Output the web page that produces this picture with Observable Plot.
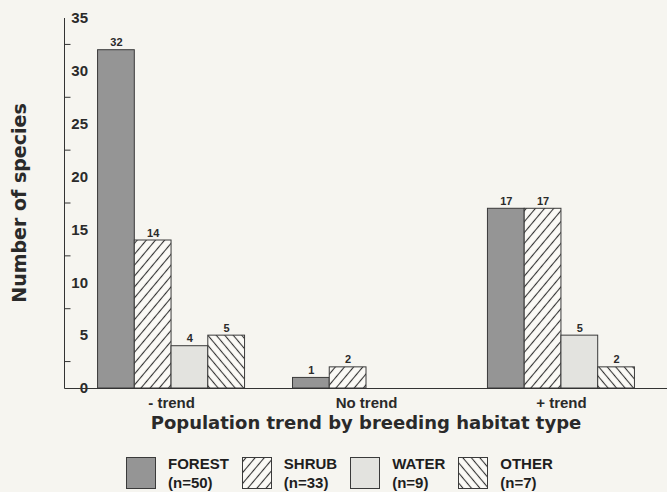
<!DOCTYPE html>
<html><head><meta charset="utf-8">
<script src="https://cdn.jsdelivr.net/npm/d3@7"></script>
<script src="https://cdn.jsdelivr.net/npm/@observablehq/plot@0.6"></script>
<style>
body{margin:0;background:#f6f5f0;}
#chart{width:667px;height:492px;overflow:hidden;position:relative;}
#legend{display:flex;align-items:flex-start;margin-left:126px;margin-top:7px;font-family:'Liberation Sans',Arial,sans-serif;font-weight:bold;font-size:15px;color:#1e1e1e;}
.item{display:flex;align-items:flex-start;margin-right:13px;}
.item svg{display:block;margin-right:12px;}
.item .lab{line-height:19px;margin-top:-3px;}
</style></head><body><div id="chart"></div>
<script>
const groups = ["- trend", "No trend", "+ trend"];
const habitats = ["FOREST", "SHRUB", "WATER", "OTHER"];
const sampleSizes = ["(n=50)", "(n=33)", "(n=9)", "(n=7)"];
const forest = [32, 1, 17];
const shrub = [14, 2, 17];
const water = [4, 0, 5];
const other = [5, 0, 2];
const yTicks = [0, 5, 10, 15, 20, 25, 30, 35];
const yMinorTicks = [2.5, 7.5, 12.5, 17.5, 22.5, 27.5, 32.5];
const xTitle = "Population trend by breeding habitat type";
const yTitle = "Number of species";

const seriesByHabitat = {FOREST: forest, SHRUB: shrub, WATER: water, OTHER: other};
const data = groups.flatMap((g, i) => habitats.map(h => ({group: g, habitat: h, value: seriesByHabitat[h][i]})));
const shown = data.filter(d => d.value > 0);

const paper = "#fbfaf6";
const ink = "#2a2a2a";
const fillsMain = ["#959595", "url(#hatch-shrub)", "#e3e3df", "url(#hatch-other)"];

const W = 667, H = 450;
const plot = Plot.plot({
  width: W, height: H,
  marginLeft: 65, marginRight: 0, marginTop: 18, marginBottom: 62,
  style: {background: "transparent", fontFamily: "'Liberation Sans', Arial, sans-serif", color: ink},
  fx: {domain: groups, paddingInner: 0.246, paddingOuter: 0.167, label: null, round: false, axis: null},
  x: {domain: habitats, padding: 0, axis: null, round: false},
  y: {domain: [0, 35], axis: null},
  color: {domain: habitats, range: fillsMain},
  marks: [
    Plot.barY(shown, {fx: "group", x: "habitat", y: "value", fill: "habitat", stroke: "#3a3a3a", strokeWidth: 1}),
    Plot.text(shown, {fx: "group", x: "habitat", y: "value", text: d => String(d.value), dy: -4, lineAnchor: "bottom", fontSize: 11, fontWeight: "bold", fill: ink}),
    Plot.axisY({ticks: yTicks, tickSize: 0, tickPadding: 10, fontSize: 15, fontWeight: "bold", label: null}),
    Plot.axisFx({anchor: "bottom", tickSize: 0, tickPadding: 9, fontSize: 15, fontWeight: "bold", label: null})
  ]
});

function addHatch(defs, id, angle, spacing) {
  const p = defs.append("pattern").attr("id", id).attr("patternUnits", "userSpaceOnUse")
    .attr("width", spacing).attr("height", spacing).attr("patternTransform", `rotate(${angle})`);
  p.append("rect").attr("width", spacing).attr("height", spacing).attr("fill", paper);
  p.append("line").attr("x1", spacing / 2).attr("x2", spacing / 2).attr("y1", -1).attr("y2", spacing + 1)
    .attr("stroke", "#333").attr("stroke-width", 1.1);
}

const svg = d3.select(plot);
const defs = svg.insert("defs", ":first-child");
addHatch(defs, "hatch-shrub", 40, 7);
addHatch(defs, "hatch-other", -40, 6.5);

const y = plot.scale("y");
const left = 64.5;
const y0 = y.apply(0), yTop = y.apply(35);
const g = svg.append("g").attr("stroke", "#333").attr("stroke-width", 1);
g.append("line").attr("x1", left).attr("x2", left).attr("y1", yTop).attr("y2", y0 + 0.5);
g.append("line").attr("x1", left).attr("x2", W).attr("y1", y0 + 0.5).attr("y2", y0 + 0.5);
g.selectAll(".minor").data(yMinorTicks).join("line")
  .attr("x1", left).attr("x2", left + 6).attr("y1", d => y.apply(d)).attr("y2", d => y.apply(d));

svg.append("text").text(xTitle)
  .attr("x", (65 + W) / 2).attr("y", 429).attr("text-anchor", "middle")
  .attr("font-family", "'DejaVu Sans', sans-serif").attr("font-weight", "bold").attr("font-size", 18).attr("fill", ink);
svg.append("text").text(yTitle)
  .attr("transform", `translate(26,${(yTop + y0) / 2}) rotate(-90)`).attr("text-anchor", "middle")
  .attr("font-family", "'DejaVu Sans', sans-serif").attr("font-weight", "bold").attr("font-size", 19).attr("fill", ink);

const chart = document.getElementById("chart");
chart.appendChild(plot);

// legend
const legend = d3.select(chart).append("div").attr("id", "legend");
const swatchFills = ["#959595", "url(#lg-shrub)", "#e3e3df", "url(#lg-other)"];
habitats.forEach((h, i) => {
  const item = legend.append("div").attr("class", "item");
  const s = item.append("svg").attr("width", 30).attr("height", 32);
  const sd = s.append("defs");
  if (i === 1) addHatch(sd, "lg-shrub", 40, 7);
  if (i === 3) addHatch(sd, "lg-other", -40, 6.5);
  s.append("rect").attr("x", 0.5).attr("y", 0.5).attr("width", 29).attr("height", 31)
    .attr("fill", swatchFills[i]).attr("stroke", "#3a3a3a");
  const lab = item.append("div").attr("class", "lab");
  lab.append("div").text(h);
  lab.append("div").text(sampleSizes[i]);
});
</script></body></html>
